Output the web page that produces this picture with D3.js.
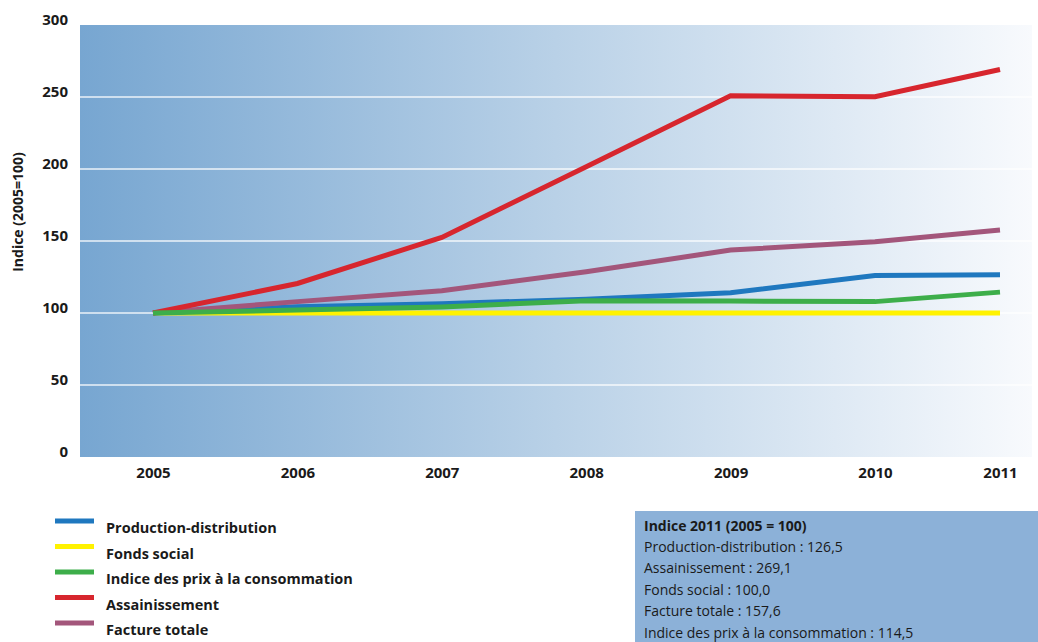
<!DOCTYPE html>
<html>
<head>
<meta charset="utf-8">
<script src="https://cdn.jsdelivr.net/npm/d3@7"></script>
<style>
  html, body { margin: 0; padding: 0; background: #ffffff; }
  svg { display: block; font-family: "Open Sans", "Noto Sans", sans-serif; }
</style>
</head>
<body>
<svg id="chart" width="1038" height="642"></svg>
<script>
// Indices de prix de l'eau, base 2005 = 100
const years = [2005, 2006, 2007, 2008, 2009, 2010, 2011];
const productionDistribution = [100, 104.3, 106.5, 109.5, 114.0, 126.0, 126.5];
const fondsSocial = [100, 100, 100, 100, 100, 100, 100];
const indicePrix = [100, 102.0, 104.2, 108.5, 108.3, 107.9, 114.5];
const assainissement = [100, 120.5, 152.5, 201.5, 250.8, 250.2, 269.1];
const factureTotale = [100, 107.9, 115.5, 128.7, 143.7, 149.5, 157.6];
const yTicks = [0, 50, 100, 150, 200, 250, 300];

const seriesNames = ["Production-distribution", "Fonds social", "Indice des prix à la consommation", "Assainissement", "Facture totale"];
const seriesColors = ["#1f78bf", "#fff200", "#3dae4a", "#d7262e", "#a3567b"];
const seriesValues = [productionDistribution, fondsSocial, indicePrix, assainissement, factureTotale];

const summaryTitle = "Indice 2011 (2005 = 100)";
const summaryLines = [
  "Production-distribution : 126,5",
  "Assainissement : 269,1",
  "Fonds social : 100,0",
  "Facture totale : 157,6",
  "Indice des prix à la consommation : 114,5"
];

const svg = d3.select("#chart");
const plot = { left: 80, top: 25, right: 1032, bottom: 457 };

const x = d3.scaleLinear().domain([2005, 2010, 2011]).range([153, 875, 1000]);
const y = d3.scaleLinear().domain([0, 300]).range([plot.bottom, plot.top]);

// Background gradient
const defs = svg.append("defs");
const grad = defs.append("linearGradient").attr("id", "bg").attr("x1", "0%").attr("x2", "100%").attr("y1", "0%").attr("y2", "0%");
grad.append("stop").attr("offset", "0%").attr("stop-color", "#77a6d1");
grad.append("stop").attr("offset", "50%").attr("stop-color", "#b9d1e7");
grad.append("stop").attr("offset", "100%").attr("stop-color", "#f8fafd");

svg.append("rect")
  .attr("x", plot.left).attr("y", plot.top)
  .attr("width", plot.right - plot.left).attr("height", plot.bottom - plot.top)
  .attr("fill", "url(#bg)");

// Gridlines
svg.append("g").selectAll("line").data(yTicks.filter(t => t > 0 && t < 300)).join("line")
  .attr("x1", plot.left).attr("x2", 1038)
  .attr("y1", d => y(d)).attr("y2", d => y(d))
  .attr("stroke", "#ffffff").attr("stroke-opacity", 0.85).attr("stroke-width", 1.5);

// Y axis
const yAxis = svg.append("g").attr("transform", `translate(${plot.left},0)`)
  .call(d3.axisLeft(y).tickValues(yTicks).tickSize(0).tickPadding(12));
yAxis.select(".domain").remove();
yAxis.selectAll("text")
  .attr("dy", "-0.02em")
  .attr("font-size", 15).attr("font-weight", 700).attr("fill", "#1a1a1a")
  .attr("font-family", "'Open Sans', sans-serif");

svg.append("text")
  .attr("transform", `translate(23,212) rotate(-90)`)
  .attr("text-anchor", "middle")
  .attr("font-size", 14).attr("font-weight", 700).attr("fill", "#1a1a1a")
  .text("Indice (2005=100)");

// X axis
const xAxis = svg.append("g").attr("transform", `translate(0,${plot.bottom})`)
  .call(d3.axisBottom(x).tickValues(years).tickFormat(d3.format("d")).tickSize(0).tickPadding(10));
xAxis.select(".domain").remove();
xAxis.selectAll("text")
  .attr("font-size", 15).attr("font-weight", 700).attr("fill", "#1a1a1a")
  .attr("font-family", "'Open Sans', sans-serif");

// Lines (drawing order puts green on top)
const drawOrder = [1, 0, 4, 3, 2];
const line = d3.line().x((d, i) => x(years[i])).y(d => y(d));
svg.append("g").selectAll("path").data(drawOrder).join("path")
  .attr("d", k => line(seriesValues[k]))
  .attr("fill", "none")
  .attr("stroke", k => seriesColors[k])
  .attr("stroke-width", 5)
  .attr("stroke-linejoin", "miter");

// Legend
const legend = svg.append("g");
seriesNames.forEach((name, i) => {
  const yy = 521 + i * 25.5;
  legend.append("line")
    .attr("x1", 55).attr("x2", 94).attr("y1", yy).attr("y2", yy)
    .attr("stroke", seriesColors[i]).attr("stroke-width", 5);
  legend.append("text")
    .attr("x", 106).attr("y", yy + 12)
    .attr("font-size", 14.5).attr("font-weight", 700).attr("fill", "#1a1a1a")
    .text(name);
});

// Summary box
const box = svg.append("g");
box.append("rect").attr("x", 635).attr("y", 511).attr("width", 403).attr("height", 131).attr("fill", "#8cb1d8");
box.append("text").attr("x", 644).attr("y", 531)
  .attr("font-size", 14).attr("font-weight", 700).attr("fill", "#1a1a1a").text(summaryTitle);
summaryLines.forEach((t, i) => {
  box.append("text").attr("x", 644).attr("y", 552 + i * 21.4)
    .attr("font-size", 14).attr("font-weight", 400).attr("fill", "#1a1a1a").text(t);
});
</script>
</body>
</html>
